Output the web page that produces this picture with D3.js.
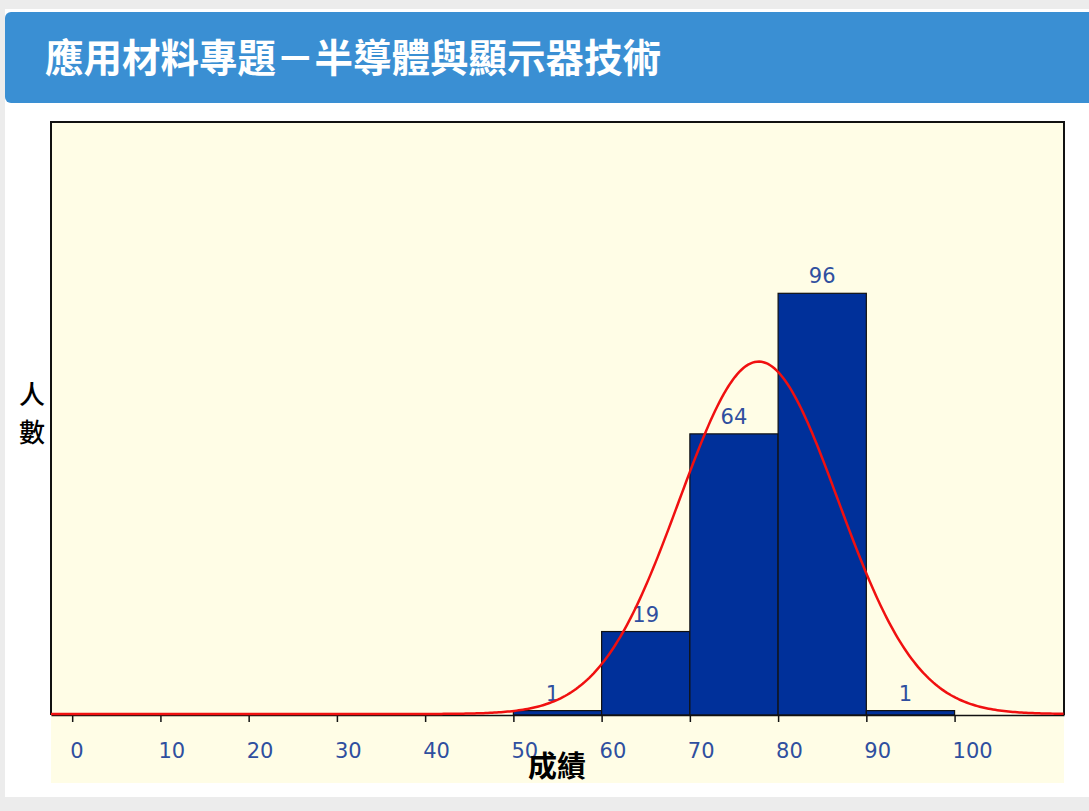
<!DOCTYPE html>
<html>
<head>
<meta charset="utf-8">
<script src="https://cdn.jsdelivr.net/npm/d3@7"></script>
<style>
    body{
        margin : 0;
        background : #ececec;
    }
    svg text{
        font-family : "Noto Sans CJK TC", "Noto Sans", sans-serif;
    }
    .tick-label, .bar-label{
        font-family : "DejaVu Sans", Verdana, sans-serif;
        fill : #2f4f9f;
    }
</style>
</head>
<body>
<div id="chart"></div>
<script>
    // score bins (lower edge, upper edge) and head counts
    const binStarts = [50, 60, 70, 80, 90];
    const binEnds = [60, 70, 80, 90, 100];
    const counts = [1, 19, 64, 96, 1];
    const tickValues = [0, 10, 20, 30, 40, 50, 60, 70, 80, 90, 100];

    // normal curve fitted to the raw scores
    const fitMean = 77.8;
    const fitSd = 9;
    const binWidth = 10;

    const title = '應用材料專題－半導體與顯示器技術';

    const W = 1089, H = 811;
    const plot = {left : 51, right : 1064, top : 122, bottom : 715};

    let svg = d3.select('#chart').append('svg')
        .attr('width', W)
        .attr('height', H);

    // page frame
    svg.append('rect').attr('width', W).attr('height', H).attr('fill', '#ececec');
    svg.append('rect')
        .attr('x', 5).attr('y', 9)
        .attr('width', W).attr('height', 788)
        .attr('fill', '#fff');
    svg.append('rect')
        .attr('x', 5).attr('y', 12)
        .attr('width', W + 20).attr('height', 91)
        .attr('rx', 6)
        .attr('fill', '#3a8fd3');
    svg.append('text')
        .attr('x', 45).attr('y', 72)
        .style('font-size', '38.5px')
        .style('font-weight', 'bold')
        .style('fill', '#fff')
        .text(title);

    let x = d3.scaleLinear().domain([-2.4, 112.4]).range([plot.left, plot.right]);
    let y = d3.scaleLinear().domain([0, 135]).range([plot.bottom, plot.top]);

    // cream plot background (also behind the tick labels)
    svg.append('rect')
        .attr('x', plot.left).attr('y', plot.top)
        .attr('width', plot.right - plot.left).attr('height', 783 - plot.top)
        .attr('fill', '#fffde6');

    // bars
    svg.append('g')
        .selectAll('rect')
        .data(counts)
        .enter()
        .append('rect')
        .attr('x', function(d, i){return x(binStarts[i]);})
        .attr('width', function(d, i){return x(binEnds[i]) - x(binStarts[i]);})
        .attr('y', function(d){return y(d);})
        .attr('height', function(d){return y(0) - y(d);})
        .attr('fill', '#00309a')
        .attr('stroke', '#111')
        .attr('stroke-width', 1.2);

    svg.append('g')
        .selectAll('text')
        .data(counts)
        .enter()
        .append('text')
        .attr('class', 'bar-label')
        .attr('x', function(d, i){return x((binStarts[i] + binEnds[i]) / 2) - (d < 10 ? 5 : 0);})
        .attr('y', function(d){return y(d) - 10;})
        .style('text-anchor', 'middle')
        .style('font-size', '21px')
        .text(function(d){return d;});

    // frame lines
    svg.append('path')
        .attr('d', 'M' + plot.left + ',' + plot.bottom + 'V' + plot.top + 'H' + plot.right + 'V' + plot.bottom)
        .attr('fill', 'none')
        .attr('stroke', '#111')
        .attr('stroke-width', 2);

    // x axis
    let axis = d3.axisBottom(x).tickValues(tickValues).tickSize(7).tickSizeOuter(0).tickFormat('');
    let axisG = svg.append('g')
        .attr('transform', 'translate(0,' + plot.bottom + ')')
        .call(axis);
    axisG.select('.domain').attr('stroke', '#111').attr('stroke-width', 1.5);
    axisG.selectAll('.tick line').attr('stroke', '#111').attr('stroke-width', 1.5);

    svg.append('g')
        .selectAll('text')
        .data(tickValues)
        .enter()
        .append('text')
        .attr('class', 'tick-label')
        .attr('x', function(d){return x(d) - 2;})
        .attr('y', 758)
        .style('font-size', '21px')
        .text(function(d){return d;});

    // fitted normal curve, scaled to counts per bin
    let curveX = d3.range(x.domain()[0], x.domain()[1] + 0.01, 0.25);
    let total = d3.sum(counts);
    let pdf = function(v){
        let z = (v - fitMean) / fitSd;
        return total * binWidth / (fitSd * Math.sqrt(2 * Math.PI)) * Math.exp(-0.5 * z * z);
    };
    svg.append('path')
        .datum(curveX)
        .attr('fill', 'none')
        .attr('stroke', '#f01010')
        .attr('stroke-width', 2.5)
        .attr('d', d3.line().x(function(d){return x(d);}).y(function(d){return y(pdf(d)) - 1;}));

    // axis titles
    svg.append('text')
        .attr('x', 32).attr('y', 404)
        .style('text-anchor', 'middle')
        .style('font-size', '26px')
        .style('font-weight', 500)
        .text('人');
    svg.append('text')
        .attr('x', 32).attr('y', 442)
        .style('text-anchor', 'middle')
        .style('font-size', '26px')
        .style('font-weight', 500)
        .text('數');
    svg.append('text')
        .attr('x', 557).attr('y', 777)
        .style('text-anchor', 'middle')
        .style('font-size', '29px')
        .style('font-weight', 'bold')
        .text('成績');
</script>
</body>
</html>
